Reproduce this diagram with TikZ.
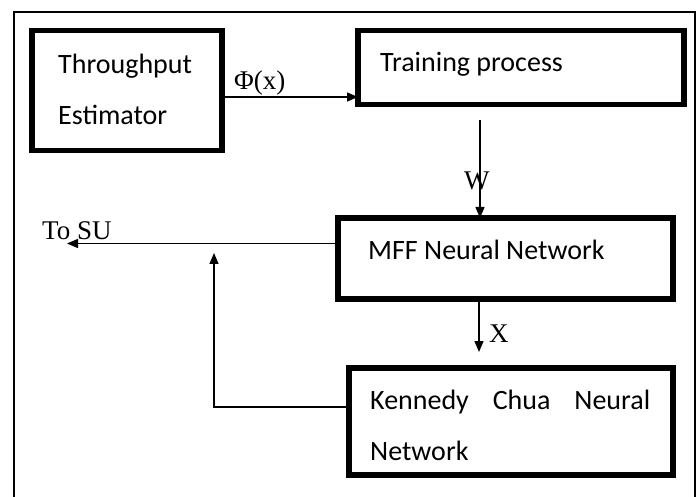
\documentclass[tikz,border=0pt]{standalone}
\usepackage{fontspec}
\setmainfont{Carlito}
\newfontfamily\seriflbl{Liberation Serif}
\usetikzlibrary{arrows.meta}
\begin{document}
\begin{tikzpicture}[x=1pt,y=-1pt,
  blk/.style={draw, line width=5.5pt, inner sep=0pt, outer sep=0pt},
  txt/.style={inner sep=0pt, anchor=base west, font=\fontsize{28}{30}\selectfont},
  lbl/.style={inner sep=0pt, anchor=base west, font=\seriflbl\fontsize{27}{30}\selectfont},
  arr/.style={line width=1.4pt, -{Triangle[length=11pt,width=9pt]}},
  frame/.style={line width=2pt}]
\useasboundingbox (0,0) rectangle (699,497);
% outer frame
\draw[frame] (14,500) -- (14,12) -- (695,12) -- (695,500);
% boxes
\node[blk, minimum width=190pt, minimum height=120pt] (te) at (127,90.5) {};
\node[blk, minimum width=326pt, minimum height=74pt] (tp) at (521,67.5) {};
\node[blk, minimum width=335pt, minimum height=81pt] (mff) at (505.5,258.5) {};
\node[blk, minimum width=324pt, minimum height=107pt] (kc) at (511,421.5) {};
% box texts
\node[txt] (t1) at (58,74) {Throughput};
\node[txt] (t2) at (58,125) {Estimator};
\node[txt] (t3) at (380,72) {Training process};
\node[txt] (t4) at (368,260) {MFF Neural Network};
\node[txt] (t5) at (370,409) {\makebox[280pt][s]{Kennedy Chua Neural}};
\node[txt] (t6) at (370,460) {Network};
% connectors
\path ([yshift=-6.5pt]te.east) coordinate (p1);
\draw[arr] (p1) -- (p1 -| tp.west);
\path ([xshift=-41pt,yshift=-15.5pt]tp.south) coordinate (w1);
\draw[arr] (w1) -- (w1 |- mff.north);
\path ([xshift=-26.5pt]mff.south) coordinate (x1);
\path ([yshift=16pt]kc.north) coordinate (k1);
\draw[arr] (x1) -- (x1 |- k1);
\path ([yshift=15pt]mff.west) coordinate (s1);
\coordinate (su) at (67,243.5);
\draw[arr] (s1) -- (s1 -| su);
\path ([yshift=14.5pt]kc.west) coordinate (f1);
\coordinate (fb) at (214,253);
\draw[arr] (f1) -- (f1 -| fb) -- (fb);
% labels
\node[lbl] (phi) at (234,90) {Φ(x)};
\node[lbl] (wl) at (464,190) {W};
\node[lbl] (xl) at (489,342) {X};
\node[lbl] (tosu) at (42,240) {To SU};
\end{tikzpicture}
\end{document}
